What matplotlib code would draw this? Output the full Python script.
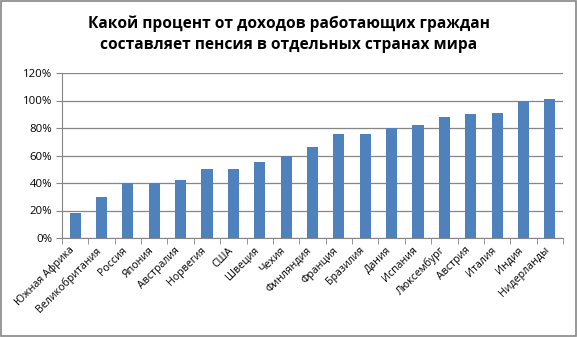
import numpy as np
import matplotlib.pyplot as plt
import matplotlib.transforms as mtransforms
from matplotlib.ticker import PercentFormatter
from matplotlib.patches import Rectangle

plt.rcParams['font.family'] = ['Open Sans', 'DejaVu Sans']

countries = ["Южная Африка", "Великобритания", "Россия", "Япония", "Австралия",
             "Норвегия", "США", "Швеция", "Чехия", "Финляндия", "Франция",
             "Бразилия", "Дания", "Испания", "Люксембург", "Австрия", "Италия",
             "Индия", "Нидерланды"]
pension_pct = [18, 30, 40, 40, 42, 50, 50, 55, 60, 66, 76, 76, 80, 82, 88, 90, 91, 100, 101]

title = "Какой процент от доходов работающих граждан\nсоставляет пенсия в отдельных странах мира"

W, H = 577, 337
fig = plt.figure(figsize=(W / 100, H / 100), dpi=100)
ax = fig.add_axes([62 / W, 1 - 238 / H, (563 - 62) / W, (238 - 73) / H])

x = np.arange(len(countries))
ax.bar(x, pension_pct, width=0.42, color="#4F81BD", zorder=3)

ax.set_xlim(-0.5, len(countries) - 0.5)
ax.set_ylim(0, 120)
ax.set_yticks(np.arange(0, 121, 20))
ax.yaxis.set_major_formatter(PercentFormatter(decimals=0))
ax.grid(axis="y", color="#868686", linewidth=0.9, zorder=0)

# подписи по центру, засечки между категориями
ax.set_xticks(x)
ax.set_xticklabels(countries, rotation=45, ha="right", rotation_mode="anchor",
                   fontsize=7.7)
ax.tick_params(axis="x", length=0, pad=5)
shift = mtransforms.ScaledTranslation(-6 / 100, 0, fig.dpi_scale_trans)
for lbl in ax.get_xticklabels():
    lbl.set_transform(lbl.get_transform() + shift)
ax.set_xticks(np.arange(-0.5, len(countries)), minor=True)
ax.tick_params(axis="x", which="minor", length=4, color="#868686", direction="out")
ax.tick_params(axis="y", length=4, color="#868686", labelsize=8.2, pad=3)

for s in ["top", "right"]:
    ax.spines[s].set_visible(False)
for s in ["left", "bottom"]:
    ax.spines[s].set_color("#868686")

fig.text(0.5, 1 - 34 / H, title, ha="center", va="center", fontsize=11.2,
         fontweight="bold", linespacing=1.45)

fig.patches.append(Rectangle((0.001, 0.002), 0.997, 0.995, transform=fig.transFigure,
                             fill=False, edgecolor="#868686", linewidth=1.2))

plt.savefig("out.png", dpi=100)
